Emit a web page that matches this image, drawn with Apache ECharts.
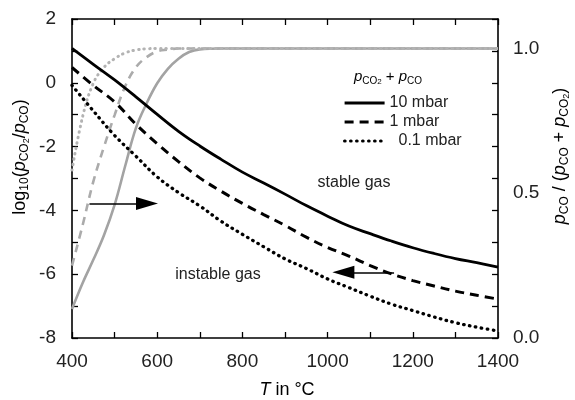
<!DOCTYPE html>
<html>
<head>
<meta charset="utf-8">
<title>CO2 / CO equilibrium</title>
<style>
  html, body { margin: 0; padding: 0; background: #fff; }
  #main { width: 575px; height: 400px; }
</style>
</head>
<body>
<div id="main"></div>
<script src="https://cdn.jsdelivr.net/npm/echarts@6/dist/echarts.min.js"></script>
<script>
// temperature grid for the black curves (left axis)
var temps = [400, 450, 500, 550, 600, 650, 700, 750, 800, 850, 900, 950, 1000, 1050, 1100, 1150, 1200, 1250, 1300, 1350, 1400];
// log10(pCO2/pCO)
var log10mbar = [1.08, 0.58, 0.09, -0.44, -0.99, -1.52, -1.98, -2.40, -2.80, -3.14, -3.49, -3.85, -4.18, -4.49, -4.73, -4.96, -5.17, -5.35, -5.51, -5.64, -5.78];
var log1mbar  = [0.48, -0.08, -0.60, -1.30, -1.91, -2.47, -2.98, -3.40, -3.78, -4.13, -4.47, -4.84, -5.16, -5.43, -5.73, -5.99, -6.20, -6.37, -6.53, -6.66, -6.78];
var log01mbar = [-0.08, -0.88, -1.65, -2.30, -2.95, -3.44, -3.86, -4.34, -4.75, -5.14, -5.52, -5.82, -6.15, -6.42, -6.69, -6.94, -7.14, -7.34, -7.52, -7.66, -7.78];

// pCO/(pCO+pCO2), grey curves (right axis)
var fracTemps = [400, 425, 450, 475, 500, 525, 550, 575, 600, 625, 650, 675, 700, 750, 800, 1400];
var frac10mbar = [0.10, 0.19, 0.27, 0.355, 0.46, 0.595, 0.725, 0.81, 0.88, 0.93, 0.965, 0.988, 0.997, 1.0, 1.0, 1.0];
var frac1mbar  = [0.25, 0.39, 0.54, 0.66, 0.77, 0.87, 0.935, 0.97, 0.99, 0.996, 1.0, 1.0, 1.0, 1.0, 1.0, 1.0];
var frac01mbar = [0.58, 0.765, 0.88, 0.935, 0.965, 0.985, 0.995, 0.999, 1.0, 1.0, 1.0, 1.0, 1.0, 1.0, 1.0, 1.0];

var xTicks = [400, 600, 800, 1000, 1200, 1400];
var leftTicks = [-8, -6, -4, -2, 0, 2];
var rightTicks = [0, 0.5, 1.0];

var FONT = "'Liberation Sans', Arial, sans-serif";

function pairs(xs, ys) {
  return xs.map(function (x, i) { return [x, ys[i]]; });
}

var myChart = echarts.init(document.getElementById('main'));

var sub = {
  n: { fontSize: 18, lineHeight: 22, fontFamily: FONT, color: '#222' },
  i: { fontSize: 18, lineHeight: 22, fontFamily: FONT, fontStyle: 'italic', color: '#222' },
  s: { fontSize: 12, lineHeight: 14, verticalAlign: 'bottom', fontFamily: FONT, color: '#222' },
  ss: { fontSize: 9, lineHeight: 8, verticalAlign: 'bottom', fontFamily: FONT, color: '#222' }
};
var subSmall = {
  n: { fontSize: 15, lineHeight: 18, fontFamily: FONT, color: '#222' },
  i: { fontSize: 15, lineHeight: 18, fontFamily: FONT, fontStyle: 'italic', color: '#222' },
  s: { fontSize: 10, lineHeight: 12, verticalAlign: 'bottom', fontFamily: FONT, color: '#222' },
  ss: { fontSize: 8, lineHeight: 6, verticalAlign: 'bottom', fontFamily: FONT, color: '#222' }
};

var axisLine = { show: true, onZero: false, lineStyle: { color: '#000', width: 1.6 } };
var tickIn = { show: true, inside: true, length: 6, lineStyle: { color: '#000', width: 1.3 } };

var option = {
  animation: false,
  backgroundColor: '#fff',
  grid: { left: 72, right: 77, top: 19, bottom: 62, containLabel: false },
  xAxis: [{
    type: 'value', min: 400, max: 1400, interval: 100,
    axisLine: axisLine, axisTick: tickIn, splitLine: { show: false },
    axisLabel: {
      margin: 14, fontSize: 19, color: '#222', fontFamily: FONT,
      formatter: function (v) { return xTicks.indexOf(v) >= 0 ? String(v) : ''; }
    }
  }, {
    type: 'value', position: 'top', min: 400, max: 1400, interval: 100,
    axisLine: axisLine, axisTick: tickIn, axisLabel: { show: false }, splitLine: { show: false }
  }],
  yAxis: [{
    type: 'value', min: -8, max: 2, interval: 1,
    axisLine: axisLine, axisTick: tickIn, splitLine: { show: false },
    axisLabel: {
      margin: 16, fontSize: 19, color: '#222', fontFamily: FONT,
      formatter: function (v) { return leftTicks.indexOf(v) >= 0 ? String(v) : ''; }
    }
  }, {
    type: 'value', position: 'right', min: -8, max: 2, interval: 1,
    axisLine: axisLine, axisTick: tickIn, axisLabel: { show: false }, splitLine: { show: false }
  }, {
    type: 'value', position: 'right', min: 0, max: 1.102, interval: 0.5,
    axisLine: { show: false }, axisTick: { show: false }, splitLine: { show: false },
    axisLabel: {
      margin: 15, fontSize: 19, color: '#222', fontFamily: FONT, showMaxLabel: false,
      formatter: function (v) { return rightTicks.indexOf(v) >= 0 ? v.toFixed(1) : ''; }
    }
  }],
  legend: {
    data: ['10 mbar', '1 mbar', '0.1 mbar'],
    orient: 'vertical', left: 338, top: 90,
    itemWidth: 40, itemHeight: 12, itemGap: 3,
    itemStyle: { opacity: 0 },
    lineStyle: { width: 3.2 },
    textStyle: { fontSize: 16, color: '#222', fontFamily: FONT },
    formatter: function (n) { return n === '0.1 mbar' ? '  0.1 mbar' : n; }
  },
  series: [{
    name: 'g10', type: 'line', xAxisIndex: 0, yAxisIndex: 2,
    data: pairs(fracTemps, frac10mbar), showSymbol: false, symbol: 'none',
    smooth: 0.4,
    lineStyle: { color: '#a3a3a3', width: 2.6 }, z: 1
  }, {
    name: 'g1', type: 'line', xAxisIndex: 0, yAxisIndex: 2,
    data: pairs(fracTemps, frac1mbar), showSymbol: false, symbol: 'none',
    smooth: 0.4,
    lineStyle: { color: '#ababab', width: 2.6, type: [8, 6] }, z: 1
  }, {
    name: 'g01', type: 'line', xAxisIndex: 0, yAxisIndex: 2,
    data: pairs(fracTemps, frac01mbar), showSymbol: false, symbol: 'none',
    smooth: 0.4,
    lineStyle: { color: '#b3b3b3', width: 3, type: [0.5, 5], cap: 'round' }, z: 1
  }, {
    name: '10 mbar', type: 'line', xAxisIndex: 0, yAxisIndex: 0,
    data: pairs(temps, log10mbar), showSymbol: false, symbol: 'none',
    smooth: 0.4,
    lineStyle: { color: '#000', width: 2.8 }, itemStyle: { color: '#000' }, z: 3,
    markLine: {
      silent: true, animation: false,
      label: { show: false },
      lineStyle: { color: '#000', width: 1.6, type: 'solid' },
      data: [
        [{ coord: [441, -3.78], symbol: 'none' }, { coord: [576, -3.78], symbol: 'triangle', symbolSize: [13, 22], symbolRotate: -90 }],
        [{ coord: [1156, -5.94], symbol: 'none' }, { coord: [1037, -5.94], symbol: 'triangle', symbolSize: [13, 22], symbolRotate: 90 }]
      ]
    }
  }, {
    name: '1 mbar', type: 'line', xAxisIndex: 0, yAxisIndex: 0,
    data: pairs(temps, log1mbar), showSymbol: false, symbol: 'none',
    smooth: 0.4,
    lineStyle: { color: '#000', width: 3, type: [9, 6] }, itemStyle: { color: '#000' }, z: 3
  }, {
    name: '0.1 mbar', type: 'line', xAxisIndex: 0, yAxisIndex: 0,
    data: pairs(temps, log01mbar), showSymbol: false, symbol: 'none',
    smooth: 0.4,
    lineStyle: { color: '#000', width: 3.3, type: [0.5, 5.5], cap: 'round' }, itemStyle: { color: '#000' }, z: 3
  }],
  graphic: [{
    type: 'text', x: 20, y: 157, rotation: Math.PI / 2,
    style: {
      text: '{n|log}{s|10}{n|(}{i|p}{s|CO}{ss|2}{n|/}{i|p}{s|CO}{n|)}',
      rich: sub, align: 'center', verticalAlign: 'middle'
    }
  }, {
    type: 'text', x: 560, y: 156, rotation: Math.PI / 2,
    style: {
      text: '{i|p}{s|CO}{n| / (}{i|p}{s|CO}{n| + }{i|p}{s|CO}{ss|2}{n|)}',
      rich: sub, align: 'center', verticalAlign: 'middle'
    }
  }, {
    type: 'text', x: 287, y: 390,
    style: {
      text: '{i|T}{n| in °C}', rich: sub, align: 'center', verticalAlign: 'middle'
    }
  }, {
    type: 'text', x: 388, y: 77,
    style: {
      text: '{i|p}{s|CO}{ss|2}{n| + }{i|p}{s|CO}', rich: subSmall, align: 'center', verticalAlign: 'middle'
    }
  }, {
    type: 'text', x: 354, y: 183,
    style: { text: 'stable gas', fontSize: 16, fontFamily: FONT, fill: '#222', align: 'center', verticalAlign: 'middle' }
  }, {
    type: 'text', x: 218, y: 275,
    style: { text: 'instable gas', fontSize: 16, fontFamily: FONT, fill: '#222', align: 'center', verticalAlign: 'middle' }
  }]
};

myChart.setOption(option);
</script>
</body>
</html>
